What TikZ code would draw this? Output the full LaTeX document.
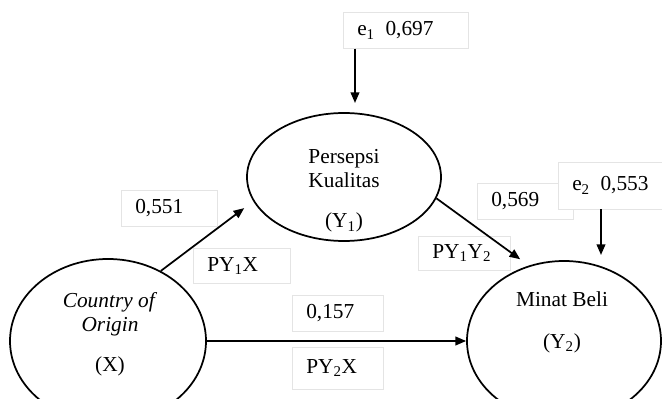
\documentclass[tikz,border=0pt]{standalone}
\usepackage{fontspec}
\setmainfont{Liberation Serif}
\usetikzlibrary{arrows.meta, positioning, shapes.geometric}
\definecolor{boxLine}{HTML}{E4E4E4}

\begin{document}
\begin{tikzpicture}[x=0.75pt, y=-0.75pt, >={Triangle[length=8pt, width=6.5pt]},
    font=\fontsize{16}{18}\selectfont,
    latent/.style={draw, ellipse, line width=1.3pt, inner sep=0pt},
    coef/.style={draw=boxLine, fill=white, anchor=north west, inner xsep=10.5pt, inner ysep=0pt,
      minimum height=27pt, text width=#1, align=left},
    effect/.style={->, line width=1.3pt}]
  \useasboundingbox (0,0) rectangle (662,399);
  \clip (0,0) rectangle (662,399);

  % path coefficient boxes
  \node[coef=72.75pt] (e1box) at (343,12) {e\textsubscript{1}\, 0,697};
  \node[coef=51pt] (c551) at (121,190) {0,551};
  \node[coef=51.75pt, minimum height=26.25pt] (py1x) at (193,248) {PY\textsubscript{1}X};
  \node[coef=51pt] (c569) at (477,183) {0,569};
  \node[coef=66pt, minimum height=35pt] (e2box) at (558,162) {e\textsubscript{2}\, 0,553};
  \node[coef=48pt, minimum height=25.5pt] (py1y2) at (418,236) {PY\textsubscript{1}Y\textsubscript{2}};
  \node[coef=47.25pt] (c157) at (292,295) {0,157};
  \node[coef=47.25pt, minimum height=31.5pt, below=11.25pt of c157] (py2x) {PY\textsubscript{2}X};

  % variables
  \node[latent, minimum width=147pt, minimum height=123pt] (X) at (108,341) {};
  \node[latent, minimum width=145.5pt, minimum height=96pt] (Y1) at (344,177) {};
  \node[latent, minimum width=145.5pt, minimum height=120pt] (Y2) at (564,341) {};
  \node[align=center] (Xtext) at (110,334) {\textit{Country of}\\\textit{Origin}\\[12pt](X)};
  \node[align=center] (Y1text) at (344,191) {Persepsi\\Kualitas\\[12pt](Y\textsubscript{1})};
  \node[align=center] (Y2text) at (562,322) {Minat Beli\\[13.5pt](Y\textsubscript{2})};

  \coordinate (e1tip) at (355,103);
  \coordinate (e2tip) at (601,255);

  \draw[effect] (e1tip |- e1box.south) -- (e1tip);
  \draw[effect] (e2tip |- e2box.south) -- (e2tip);
  \draw[effect, shorten >=8.5pt] (X.53) -- (Y1.195);
  \draw[effect, shorten >=8pt] (Y1.-13) -- (Y2.115);
  \draw[effect] (X.east) -- (Y2.west);
\end{tikzpicture}
\end{document}
